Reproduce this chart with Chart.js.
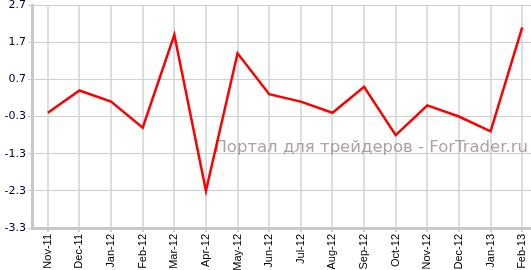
<!DOCTYPE html>
<html>
<head>
<meta charset="utf-8">
<script src="https://cdn.jsdelivr.net/npm/chart.js@4/dist/chart.umd.min.js"></script>
<style>
    html, body { margin: 0; padding: 0; background: #fff; }
    #wrap { width: 531px; height: 270px; overflow: hidden; position: relative; }
    #box { width: 540px; height: 270px; }
</style>
</head>
<body>
<div id="wrap"><div id="box"><canvas id="chart"></canvas></div></div>
<script>
/* =========================================================
   DATA
========================================================= */
const months = ['Nov-11', 'Dec-11', 'Jan-12', 'Feb-12', 'Mar-12', 'Apr-12', 'May-12', 'Jun-12',
    'Jul-12', 'Aug-12', 'Sep-12', 'Oct-12', 'Nov-12', 'Dec-12', 'Jan-13', 'Feb-13'];
const values = [-0.2, 0.4, 0.1, -0.6, 1.9, -2.3, 1.4, 0.3, 0.1, -0.2, 0.5, -0.8, 0.0, -0.3, -0.7, 2.1];
const yTicks = [-3.3, -2.3, -1.3, -0.3, 0.7, 1.7, 2.7];
const watermark = 'Портал для трейдеров - ForTrader.ru';

/* =========================================================
   WATERMARK PLUGIN
========================================================= */
const watermarkPlugin = {
    id: 'watermark',
    beforeDatasetsDraw(chart) {
        const ctx = chart.ctx;
        ctx.save();
        ctx.font = '16.5px "DejaVu Sans"';
        ctx.fillStyle = 'rgba(160, 145, 145, 0.85)';
        ctx.textAlign = 'right';
        ctx.textBaseline = 'alphabetic';
        ctx.fillText(watermark, 528, 152);
        ctx.restore();
    }
};

/* =========================================================
   CHART INIT
========================================================= */
new Chart(document.getElementById('chart'), {
    type: 'line',
    data: {
        labels: months,
        datasets: [{
            data: values,
            borderColor: '#ff0000',
            borderWidth: 2.5,
            pointRadius: 0,
            tension: 0,
            fill: false
        }]
    },
    options: {
        responsive: true,
        maintainAspectRatio: false,
        animation: false,
        layout: {
            padding: { top: 5, right: 2, left: 0, bottom: 0 }
        },
        plugins: {
            legend: { display: false },
            tooltip: { enabled: false }
        },
        scales: {
            x: {
                offset: true,
                grid: {
                    offset: false,
                    color: '#dedede',
                    lineWidth: 2,
                    tickLength: 4,
                    tickColor: '#cccccc'
                },
                border: { color: '#c8c8c8', width: 3 },
                ticks: {
                    maxRotation: 90,
                    minRotation: 90,
                    autoSkip: false,
                    padding: 2,
                    color: '#000000',
                    font: { family: '"Liberation Sans", Arial', size: 11 }
                },
                afterFit(scale) { scale.height = 42; }
            },
            y: {
                min: yTicks[0],
                max: yTicks[yTicks.length - 1],
                afterBuildTicks(scale) {
                    scale.ticks = yTicks.map(v => ({ value: v }));
                },
                grid: {
                    color: '#cfcfcf',
                    lineWidth: 1,
                    tickLength: 4,
                    tickColor: '#cccccc'
                },
                border: { color: '#c8c8c8', width: 3 },
                ticks: {
                    padding: 2,
                    color: '#000033',
                    font: { family: '"DejaVu Sans", Verdana', size: 11 },
                    callback: v => v.toFixed(1)
                },
                afterFit(scale) {
                    scale.width = 32;
                    scale.paddingTop = 0;
                    scale.paddingBottom = 0;
                }
            }
        }
    },
    plugins: [watermarkPlugin]
});
</script>
</body>
</html>
